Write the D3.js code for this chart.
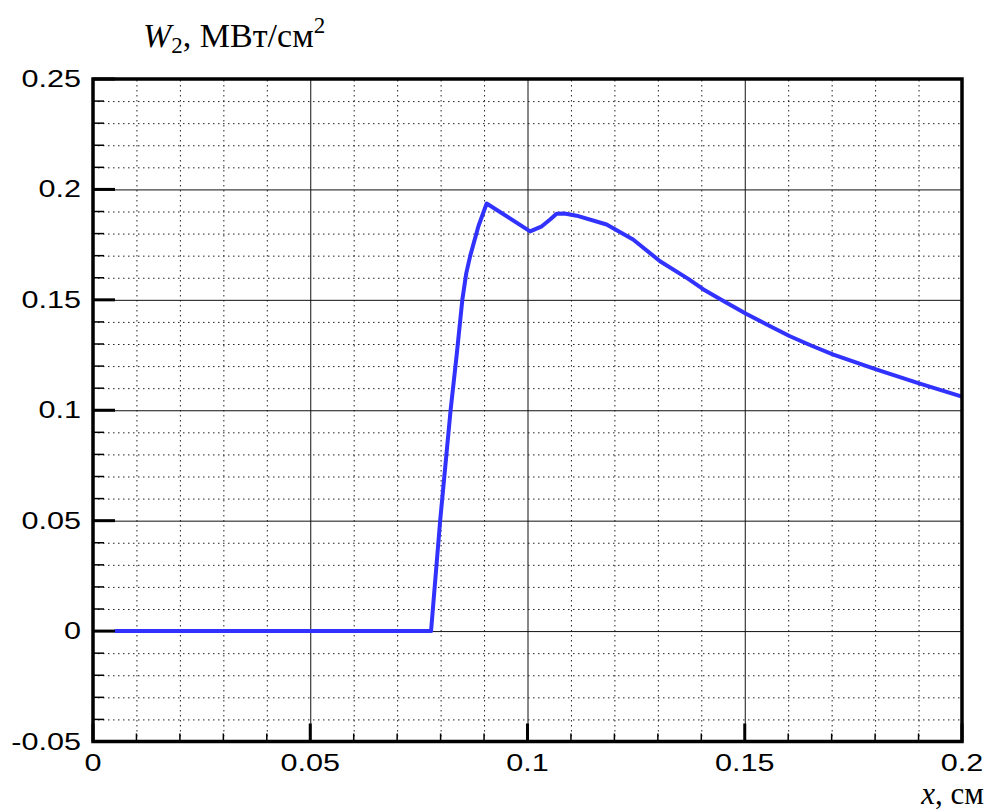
<!DOCTYPE html>
<html>
<head>
<meta charset="utf-8">
<script src="https://cdn.jsdelivr.net/npm/d3@7"></script>
<style>
  body { margin: 0; background: #fff; }
  .tick-label { font-family: "Liberation Sans", Arial, sans-serif; font-size: 23px; fill: #000; }
  .title { font-family: "Liberation Serif", "Times New Roman", serif; font-size: 34px; fill: #000; }
  .grid-minor line { stroke: #222; stroke-width: 1; stroke-dasharray: 1.5,3.5; }
  .grid-major line { stroke: #111; stroke-width: 1; }
  .domain { display: none; }
</style>
</head>
<body>
<div id="chart"></div>
<script>
//MARGIN CONVENTION
var MARGIN = { LEFT: 93, RIGHT: 26, TOP: 79, BOTTOM: 70.5 }
var CANVAS = { WIDTH: 988 - MARGIN.LEFT - MARGIN.RIGHT,
               HEIGHT: 812 - MARGIN.TOP - MARGIN.BOTTOM }

//DATA
const xValues = [0.005, 0.0778, 0.0799, 0.0823, 0.0837, 0.085, 0.0859, 0.0868, 0.0887, 0.0906, 0.1006,
                 0.1033, 0.1052, 0.1067, 0.1085, 0.1113, 0.1182, 0.1243, 0.1305, 0.137, 0.1405,
                 0.1455, 0.1503, 0.1554, 0.1604, 0.1654, 0.1704, 0.1804, 0.1903, 0.2]
const wValues = [0, 0, 0.05, 0.1, 0.125, 0.15, 0.162, 0.1698, 0.1833, 0.1936, 0.181,
                 0.1833, 0.1864, 0.189, 0.1891, 0.1881, 0.1841, 0.1773, 0.1675, 0.1595, 0.1547,
                 0.149, 0.1437, 0.1385, 0.1335, 0.1292, 0.1252, 0.1184, 0.1121, 0.1062]
const xTicks = [0, 0.05, 0.1, 0.15, 0.2]
const xTickLabels = ["0", "0.05", "0.1", "0.15", "0.2"]
const yTicks = [-0.05, 0, 0.05, 0.1, 0.15, 0.2, 0.25]
const yTickLabels = ["-0.05", "0", "0.05", "0.1", "0.15", "0.2", "0.25"]

const svg = d3.select("#chart").append("svg")
    .attr("width", 988)
    .attr("height", 812)
const svgCanvas = svg.append("g")
    .attr("transform", `translate(${MARGIN.LEFT}, ${MARGIN.TOP})`)

//SCALES
const xScale = d3.scaleLinear().domain([0, 0.2]).range([0, CANVAS.WIDTH])
const yScale = d3.scaleLinear().domain([-0.05, 0.25]).range([CANVAS.HEIGHT, 0])

const xMinor = d3.range(0, 0.2001, 0.01).filter(v => Math.abs(v / 0.05 - Math.round(v / 0.05)) > 1e-6)
const yMinor = d3.range(-0.05, 0.2501, 0.01).filter(v => Math.abs(v / 0.05 - Math.round(v / 0.05)) > 1e-6)

// GRID
svgCanvas.append("g").attr("class", "grid-minor")
    .attr("transform", `translate(0, ${CANVAS.HEIGHT})`)
    .call(d3.axisBottom(xScale).tickValues(xMinor).tickSize(-CANVAS.HEIGHT).tickFormat(""))
svgCanvas.append("g").attr("class", "grid-minor")
    .call(d3.axisLeft(yScale).tickValues(yMinor).tickSize(-CANVAS.WIDTH).tickFormat(""))
svgCanvas.append("g").attr("class", "grid-major")
    .attr("transform", `translate(0, ${CANVAS.HEIGHT})`)
    .call(d3.axisBottom(xScale).tickValues(xTicks.slice(1, -1)).tickSize(-CANVAS.HEIGHT).tickFormat(""))
svgCanvas.append("g").attr("class", "grid-major")
    .call(d3.axisLeft(yScale).tickValues(yTicks.slice(1, -1)).tickSize(-CANVAS.WIDTH).tickFormat(""))

//CURVE
const line = d3.line()
    .x((d, i) => xScale(xValues[i]))
    .y(d => yScale(d))
svgCanvas.append("path")
    .attr("d", line(wValues))
    .attr("fill", "none")
    .attr("stroke", "#3232ff")
    .attr("stroke-width", 4)
    .attr("stroke-linejoin", "round")

//TICKS (inward)
yTicks.forEach(v => {
    svgCanvas.append("line")
        .attr("x1", 0).attr("x2", 22)
        .attr("y1", yScale(v)).attr("y2", yScale(v))
        .attr("stroke", "#000").attr("stroke-width", 3)
})
yMinor.forEach(v => {
    svgCanvas.append("line")
        .attr("x1", 0).attr("x2", 11)
        .attr("y1", yScale(v)).attr("y2", yScale(v))
        .attr("stroke", "#000").attr("stroke-width", 1.5)
})
xTicks.forEach(v => {
    svgCanvas.append("line")
        .attr("x1", xScale(v)).attr("x2", xScale(v))
        .attr("y1", CANVAS.HEIGHT).attr("y2", CANVAS.HEIGHT - 18)
        .attr("stroke", "#000").attr("stroke-width", 3)
})
xMinor.forEach(v => {
    svgCanvas.append("line")
        .attr("x1", xScale(v)).attr("x2", xScale(v))
        .attr("y1", CANVAS.HEIGHT).attr("y2", CANVAS.HEIGHT - 8)
        .attr("stroke", "#000").attr("stroke-width", 1.5)
})

//FRAME
svgCanvas.append("rect")
    .attr("x", 0).attr("y", 0)
    .attr("width", CANVAS.WIDTH).attr("height", CANVAS.HEIGHT)
    .attr("fill", "none").attr("stroke", "#000").attr("stroke-width", 3.5)

//TICK LABELS (font in the reference is stretched horizontally)
const STRETCH = 1.33
svgCanvas.selectAll(".ylab").data(yTicks).join("text")
    .attr("class", "tick-label")
    .attr("transform", d => `translate(${-12}, ${yScale(d) + 8}) scale(${STRETCH},1)`)
    .attr("text-anchor", "end")
    .text((d, i) => yTickLabels[i])
svgCanvas.selectAll(".xlab").data(xTicks).join("text")
    .attr("class", "tick-label")
    .attr("transform", d => `translate(${xScale(d)}, ${CANVAS.HEIGHT + 29}) scale(${STRETCH},1)`)
    .attr("text-anchor", "middle")
    .text((d, i) => xTickLabels[i])

//AXIS TITLES
const yTitle = svg.append("text").attr("class", "title").attr("x", 143).attr("y", 47)
yTitle.append("tspan").attr("font-style", "italic").text("W")
yTitle.append("tspan").attr("font-size", "23px").attr("dy", 6).text("2")
yTitle.append("tspan").attr("dy", -6).text(", МВт/см")
yTitle.append("tspan").attr("font-size", "23px").attr("dy", -14).text("2")

const xTitle = svg.append("text").attr("class", "title").attr("x", 984).attr("y", 804)
    .attr("text-anchor", "end").style("font-size", "31px")
xTitle.append("tspan").attr("font-style", "italic").text("x")
xTitle.append("tspan").text(", см")
</script>
</body>
</html>
